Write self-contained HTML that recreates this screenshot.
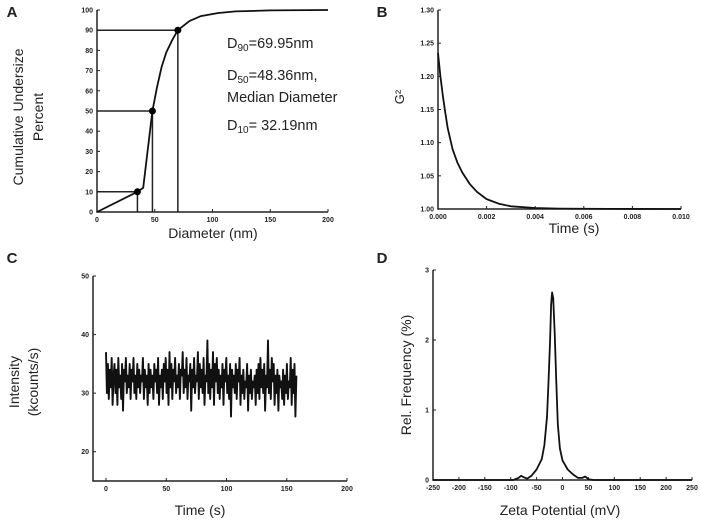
<!DOCTYPE html>
<html><head><meta charset="utf-8"><style>
html,body{margin:0;padding:0;background:#fff;width:702px;height:527px;overflow:hidden}
svg{font-family:"Liberation Sans",sans-serif}
.t{font-size:7px;font-weight:bold;fill:#222}
.ax{stroke:#222;stroke-width:1.5;fill:none}
</style></head><body>
<svg id="s" width="702" height="527" viewBox="0 0 702 527"></svg>
<script>
// Panel A data
const aDiam=[0,35,40,48,52,56,60,65,70,80,90,105,120,150,200];
const aPct=[0,10,12,50,62,72,79,85,90,94.5,97,98.5,99.3,99.8,100];
const aMarkD=[35,48,70];
const aMarkP=[10,50,90];
const aXTicks=[0,50,100,150,200];
const aYTicks=[0,10,20,30,40,50,60,70,80,90,100];
// Panel B data
const bT=[0,0.0001,0.0002,0.0003,0.0004,0.0006,0.0008,0.001,0.0013,0.0016,0.002,0.0025,0.003,0.004,0.005,0.007,0.01];
const bG=[1.235,1.2,1.17,1.145,1.122,1.09,1.07,1.055,1.038,1.026,1.015,1.008,1.004,1.0015,1.0006,1.0002,1.0];
const bXTicks=[0,0.002,0.004,0.006,0.008,0.010];
const bXLabels=["0.000","0.002","0.004","0.006","0.008","0.010"];
const bYTicks=[1.00,1.05,1.10,1.15,1.20,1.25,1.30];
// Panel C data (kcounts/s), one value per 0.8 s
const cVals=[37,30,35,29,34,31,36,28,33,35,30,34,28,36,31,33,29,35,27,34,32,36,30,33,31,35,29,34,32,36,30,33,29,35,31,34,30,33,32,36,29,34,31,33,28,35,30,34,31,33,29,35,32,34,30,36,28,33,31,34,
29,35,32,36,30,34,28,37,31,35,29,34,32,36,30,33,31,35,29,34,33,37,30,34,31,36,29,33,32,35,27,34,31,36,30,33,32,37,29,35,31,34,30,36,28,33,32,39,30,35,29,34,31,37,28,35,32,36,30,34,
29,33,31,35,28,34,32,36,30,33,29,35,26,34,31,33,30,35,29,34,32,36,28,33,30,34,29,32,31,35,27,33,30,34,29,32,31,33,28,34,30,35,29,36,31,34,30,35,27,33,31,39,30,34,29,36,32,35,28,33,
30,34,27,33,31,32,29,34,28,33,30,35,29,32,31,36,28,34,30,35,26,33];
const cXTicks=[0,50,100,150,200];
const cYTicks=[20,30,40,50];
// Panel D data
const dX=[-250,-95,-85,-80,-75,-68,-60,-50,-40,-35,-30,-27,-24,-22,-20,-18,-15,-12,-9,-5,0,10,20,30,38,44,50,60,250];
const dY=[0,0,0.03,0.06,0.04,0.02,0.06,0.15,0.3,0.5,0.9,1.4,2.0,2.5,2.68,2.6,2.1,1.4,0.8,0.45,0.28,0.15,0.08,0.03,0.03,0.05,0.01,0,0];
const dXTicks=[-250,-200,-150,-100,-50,0,50,100,150,200,250];
const dYTicks=[0,1,2,3];

const S=document.getElementById('s');const NS='http://www.w3.org/2000/svg';
function mk(tag,attrs,txt){const e=document.createElementNS(NS,tag);for(const k in attrs)e.setAttribute(k,attrs[k]);if(txt!==undefined)e.textContent=txt;S.appendChild(e);return e;}
function lin(d0,d1,r0,r1){return v=>r0+(v-d0)/(d1-d0)*(r1-r0);}
function axes(name,x0,x1,y0,y1,xs,ys,xt,yt,xl,yl){
  let e=mk('path',{d:`M${x0},${y1}V${y0}H${x1}`,class:'ax'});
  
  
  xt.forEach((v,i)=>{const x=xs(v);mk('line',{x1:x,x2:x,y1:y0,y2:y0-3,stroke:'#222'});
    const t=mk('text',{x:x,y:y0+10,class:'t','text-anchor':'middle'},xl?xl[i]:String(v));
    
    });
  yt.forEach(v=>{const y=ys(v);mk('line',{x1:x0,x2:x0+3,y1:y,y2:y,stroke:'#222'});
    const t=mk('text',{x:x0-4,y:y+2.5,class:'t','text-anchor':'end'},yl?yl(v):String(v));
    
    });
}
function path(name,xs,ys,X,Y,w){let d='';X.forEach((v,i)=>{d+=(i?'L':'M')+xs(v).toFixed(1)+','+ys(Y[i]).toFixed(1);});
  const e=mk('path',{d:d,fill:'none',stroke:'#111','stroke-width':w||2,'stroke-linejoin':'round'});
  
  return e;}
function label(txt,x,y,name,size,rot,bold){const a={x:x,y:y,'font-size':size,fill:'#222','text-anchor':'middle'};if(rot)a.transform=`rotate(-90 ${x} ${y})`;if(bold)a['font-weight']='bold';
  const e=mk('text',a,txt);return e;}

// Panel A
{const xs=lin(0,200,97,328),ys=lin(0,100,212,10);
 axes('panel-a',97,328,212,10,xs,ys,aXTicks,aYTicks);
 aMarkD.forEach((d,i)=>{const e=mk('path',{d:`M97,${ys(aMarkP[i])}H${xs(d)}V212`,fill:'none',stroke:'#222','stroke-width':1.5});
   
   });
 path('cumulative-curve',xs,ys,aDiam,aPct,1.8);
 aMarkD.forEach((d,i)=>{const c=mk('circle',{cx:xs(d),cy:ys(aMarkP[i]),r:3.5,fill:'#000'});
   
   });
 label('A',12,17,'panel-a-label',15,false,true);
 label('Diameter (nm)',213,238,'panel-a-x-title',14);
 label('Cumulative Undersize',23,117,'panel-a-y-title',14,true);
 label('Percent',43,117,'panel-a-y-title-2',14,true);
 const ann=[['D','90','=69.95nm',48],['D','50','=48.36nm,',80],['','','Median Diameter',102],['D','10','= 32.19nm',130]];
 ann.forEach(a=>{const t=mk('text',{x:227,y:a[3],'font-size':14.5,fill:'#222'});
   if(a[0]){const s1=document.createElementNS(NS,'tspan');s1.textContent='D';t.appendChild(s1);
    const s2=document.createElementNS(NS,'tspan');s2.setAttribute('font-size','10');s2.setAttribute('dy','3');s2.textContent=a[1];t.appendChild(s2);
    const s3=document.createElementNS(NS,'tspan');s3.setAttribute('dy','-3');s3.textContent=a[2];t.appendChild(s3);}else t.textContent=a[2];});
}
// Panel B
{const xs=lin(0,0.01,438,681),ys=lin(1,1.3,209,10);
 axes('panel-b',438,681,209,10,xs,ys,bXTicks,bXLabels?bYTicks:bYTicks,bXLabels,v=>v.toFixed(2));
 path('g2-curve',xs,ys,bT,bG,1.8);
 label('B',382,17,'panel-b-label',15,false,true);
 label('Time (s)',574,233,'panel-b-x-title',14);
 label('G²',404,97,'panel-b-y-title',13,true);}
// Panel C
{const xs=lin(0,200,106,347),ys=lin(15,50,481,276);
 axes('panel-c',93,347,481,276,xs,ys,cXTicks,cYTicks);
 const ct=cVals.map((v,i)=>i*158/(cVals.length-1));
 path('intensity-trace',xs,ys,ct,cVals,1.9);
 label('C',12,263,'panel-c-label',15,false,true);
 label('Time (s)',200,515,'panel-c-x-title',14);
 label('Intensity',19,382,'panel-c-y-title',14,true);
 label('(kcounts/s)',38,382,'panel-c-y-title-2',14,true);}
// Panel D
{const xs=lin(-250,250,433,692),ys=lin(0,3,480,270);
 axes('panel-d',433,692,480,270,xs,ys,dXTicks,dYTicks);
 path('zeta-distribution',xs,ys,dX,dY,1.8);
 label('D',382,263,'panel-d-label',15,false,true);
 label('Zeta Potential (mV)',560,515,'panel-d-x-title',14);
 label('Rel. Frequency (%)',411,375,'panel-d-y-title',14,true);}
</script>
</body></html>
